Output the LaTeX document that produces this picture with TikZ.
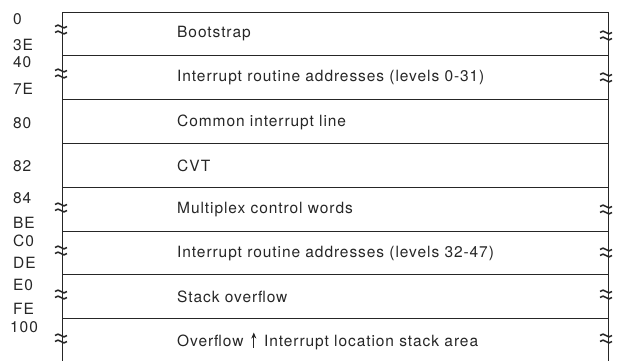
\documentclass[tikz,border=0pt]{standalone}
\usepackage{fontspec}
\setmainfont{TeX Gyre Heros}[LetterSpace=6]
\usetikzlibrary{arrows.meta}
\tikzset{
  rule/.style={line width=0.9pt, draw=black!85},
  rowtext/.style={anchor=west, inner sep=0pt, font=\fontsize{15.5}{17}\selectfont, text=black!85},
  addr/.style={anchor=west, inner sep=0pt, font=\fontsize{15.5}{17}\selectfont, text=black!85},
  brk/.pic={
    \draw[line width=1.5pt, black!85] (-6,-2.5) .. controls (-2,-7.5) and (2,2.5) .. (6,-2.5);
    \draw[line width=1.5pt, black!85] (-6,3.5) .. controls (-2,-1.5) and (2,8.5) .. (6,3.5);
  }
}
\begin{document}
\begin{tikzpicture}[x=1pt,y=-1pt]
\useasboundingbox (0,0) rectangle (618,361);
% frame
\coordinate (tl) at (62,12);
\coordinate (tr) at (608,12);
\coordinate (bl) at (62,361);
\coordinate (br) at (608,361);
\draw[rule] (bl) -- (tl) -- (tr) -- (br);
\foreach \y in {55,99,143,187,231,274,318}{
  \draw[rule] (62,\y) -- (608,\y);
}
% breaks
\foreach \y in {29,73,207,250,294,338}{
  \pic at (61,\y) {brk};
}
\foreach \y in {35,77,209,252,294,338}{
  \pic at (606,\y) {brk};
}
% row texts
\node[rowtext] (r1) at (177,34) {Bootstrap};
\node[rowtext] (r2) at (177,78) {Interrupt routine addresses (levels 0-31)};
\node[rowtext] (r3) at (177,122) {Common interrupt line};
\node[rowtext] (r4) at (177,166) {CVT};
\node[rowtext] (r5) at (177,210) {Multiplex control words};
\node[rowtext] (r6) at (177,254) {Interrupt routine addresses (levels 32-47)};
\node[rowtext] (r7) at (177,297) {Stack overflow};
\node[rowtext] (r8) at (177,341) {Overflow\, \tikz[baseline=0pt]\draw[line width=0.9pt,-{Stealth[length=6pt,width=5pt]}] (0,-1pt) -- (0,14pt);\, Interrupt location stack area};
% addresses
\node[addr] (a0) at (13,19) {0};
\node[addr] (a1) at (13,45) {3E};
\node[addr] (a2) at (13,62) {40};
\node[addr] (a3) at (13,89) {7E};
\node[addr] (a4) at (13,123) {80};
\node[addr] (a5) at (13,166) {82};
\node[addr] (a6) at (13,198) {84};
\node[addr] (a7) at (13,223) {BE};
\node[addr] (a8) at (13,241) {C0};
\node[addr] (a9) at (13,263) {DE};
\node[addr] (a10) at (13,285) {E0};
\node[addr] (a11) at (13,309) {FE};
\node[addr] (a12) at (10,327) {100};
\end{tikzpicture}
\end{document}
